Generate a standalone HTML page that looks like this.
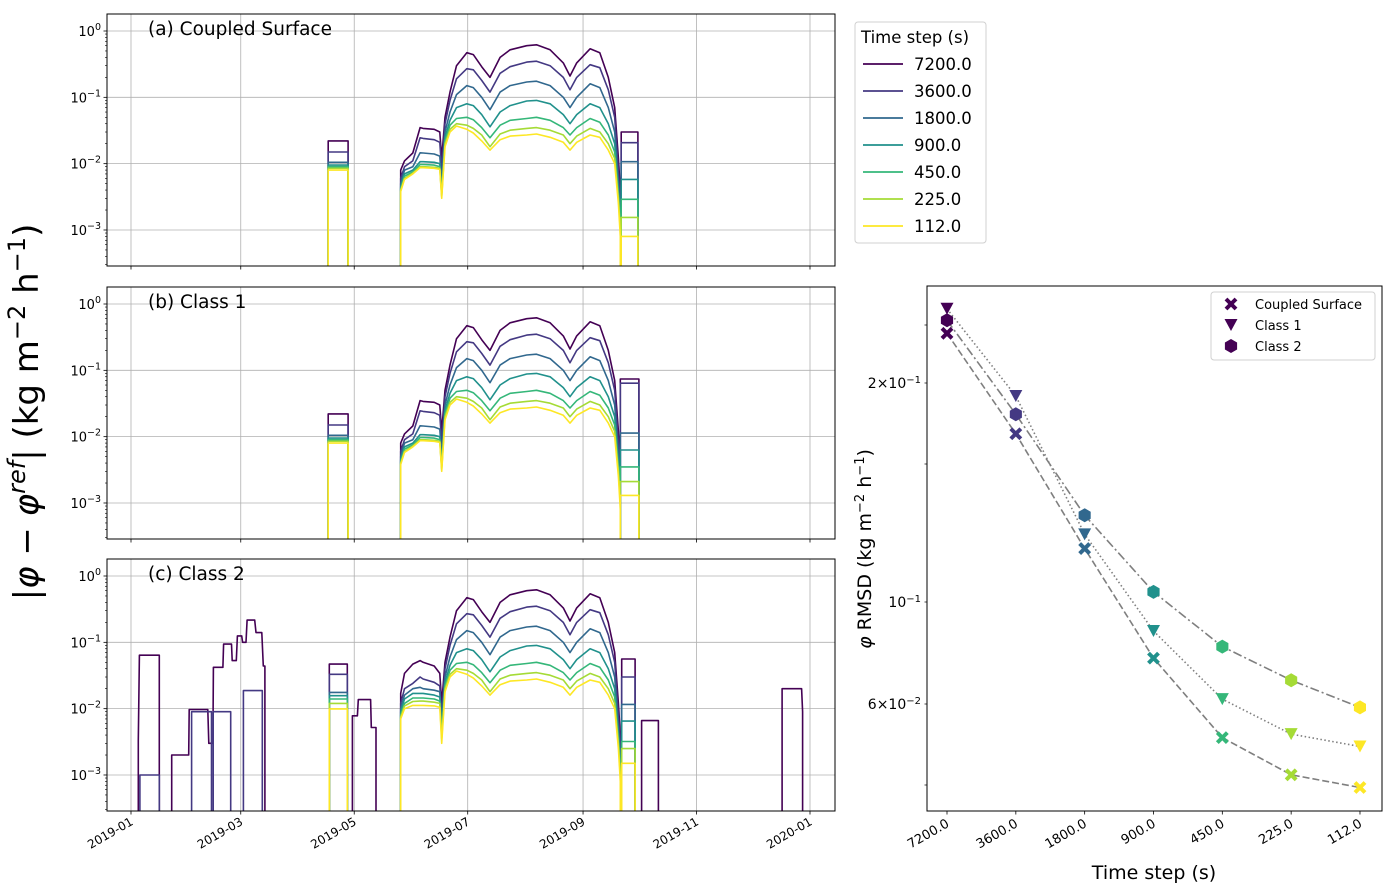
<!DOCTYPE html>
<html><head><meta charset="utf-8"><style>
html,body{margin:0;padding:0;background:#fff}
svg{display:block;font-family:"DejaVu Sans","Liberation Sans",sans-serif}
</style></head><body>
<svg id="fig" width="1396" height="895" viewBox="0 0 1396 895" xmlns="http://www.w3.org/2000/svg"></svg>
<script>
// ---------- data ----------
const seriesLabels = ['7200.0','3600.0','1800.0','900.0','450.0','225.0','112.0'];
const monthDays = [0,59,120,181,243,304,365];
const monthLabels = ['2019-01','2019-03','2019-05','2019-07','2019-09','2019-11','2020-01'];
const springDays = [145,147,151.5,155.4,157,163,166,167];
const summerDays = [168.8,171.5,175,180.5,184,188.5,193,198.4,203.8,212.7,218,225.3,232.4,236,239.6,246.8,252,256.6,260,262,263];
const springAB = [
 [0.008,0.011,0.0145,0.035,0.034,0.033,0.03,0.012],
 [0.006,0.009,0.011,0.0245,0.024,0.023,0.021,0.008],
 [0.005,0.008,0.009,0.0146,0.0145,0.014,0.013,0.005],
 [0.0045,0.007,0.008,0.0107,0.0107,0.0105,0.01,0.004],
 [0.0042,0.0065,0.0075,0.0097,0.0097,0.0095,0.009,0.0035],
 [0.004,0.006,0.0072,0.009,0.009,0.0088,0.0085,0.0032],
 [0.0038,0.0058,0.007,0.0087,0.0087,0.0085,0.0082,0.003]];
const springC = [
 [0.017,0.034,0.047,0.053,0.05,0.044,0.034,0.012],
 [0.012,0.02,0.024,0.03,0.028,0.025,0.022,0.008],
 [0.01,0.016,0.02,0.021,0.02,0.019,0.018,0.006],
 [0.009,0.014,0.017,0.017,0.017,0.016,0.015,0.005],
 [0.008,0.012,0.0145,0.0145,0.0145,0.014,0.013,0.004],
 [0.0075,0.011,0.0128,0.013,0.013,0.0125,0.012,0.0035],
 [0.007,0.01,0.0112,0.0112,0.0112,0.011,0.0105,0.003]];
const summer = [
 [0.05,0.12,0.3,0.47,0.44,0.29,0.2,0.40,0.52,0.6,0.62,0.52,0.33,0.21,0.33,0.54,0.47,0.2,0.07,0.012,0.004],
 [0.04,0.09,0.19,0.27,0.26,0.18,0.12,0.23,0.29,0.34,0.35,0.3,0.2,0.13,0.2,0.31,0.28,0.13,0.05,0.008,0.003],
 [0.03,0.06,0.11,0.15,0.14,0.1,0.065,0.12,0.15,0.17,0.175,0.15,0.1,0.07,0.1,0.16,0.14,0.07,0.03,0.005,0.002],
 [0.025,0.045,0.07,0.08,0.075,0.055,0.036,0.06,0.075,0.088,0.09,0.08,0.055,0.04,0.055,0.08,0.07,0.04,0.02,0.004,0.0015],
 [0.022,0.038,0.048,0.05,0.046,0.035,0.0245,0.038,0.045,0.048,0.05,0.045,0.035,0.027,0.035,0.048,0.042,0.027,0.015,0.0035,0.0012],
 [0.02,0.033,0.04,0.038,0.034,0.027,0.018,0.028,0.032,0.034,0.035,0.032,0.027,0.02,0.026,0.034,0.03,0.02,0.012,0.003,0.001],
 [0.018,0.03,0.037,0.033,0.029,0.022,0.016,0.023,0.026,0.027,0.028,0.025,0.021,0.016,0.021,0.027,0.025,0.016,0.01,0.0025,0.0008]];
const block1DaysAB = [106,116.7];
const block1DaysC = [106.6,116.3];
const block1AB = [0.022,0.015,0.0105,0.0095,0.009,0.0085,0.008];
const block1C = [0.047,0.033,0.0176,0.0157,0.014,0.012,0.0099];
const endDaysA = [263.5,272.5];
const endDaysB = [263,273];
const endDaysC = [263.8,271];
const endA = [0.03,0.0207,0.0107,0.0058,0.0029,0.00155,0.0008];
const endB = [0.074,0.064,0.0113,0.0063,0.0035,0.0021,0.0013];
const endC = [0.056,0.030,0.0116,0.0065,0.0032,0.0025,0.0015];
// extra Class 2 segments (null separates blocks)
const c7200ExtraDays = [3.9,4.5,14.1,15.2,null,21.9,31.0,31.3,41.3,41.8,44.0,44.3,49.4,49.8,54.0,54.4,56.6,57.2,59.5,60,61.8,62.4,66.5,67.2,70.3,71.1,72,null,119,121.7,122.2,128.8,129.2,131.7,null,274.5,283.5,null,350,360.5,361];
const c7200ExtraVals = [0.0033,0.064,0.064,0.064,null,0.002,0.002,0.0097,0.0097,0.003,0.003,0.042,0.042,0.094,0.094,0.053,0.053,0.125,0.125,0.10,0.10,0.216,0.216,0.14,0.14,0.044,0.044,null,0.0078,0.0078,0.0137,0.0137,0.0052,0.0052,null,0.0066,0.0066,null,0.02,0.02,0.009];
const c3600ExtraDays = [4.8,15.2,null,32.6,43.3,null,44.2,53.6,null,60.4,70.6];
const c3600ExtraVals = [0.001,0.001,null,0.009,0.009,null,0.009,0.009,null,0.0187,0.0187];
const rmsdSteps = ['7200.0','3600.0','1800.0','900.0','450.0','225.0','112.0'];
const rmsdCoupled = [0.283,0.167,0.117,0.0755,0.0507,0.0421,0.0395];
const rmsdClass1 = [0.336,0.191,0.122,0.0865,0.0615,0.0516,0.0485];
const rmsdClass2 = [0.31,0.179,0.129,0.103,0.080,0.0676,0.059];
const rmsdTickVals = [0.2,0.1,0.06];
const rmsdTickLabels = [['2×10','−1'],['10','−1'],['6×10','−2']];
const rmsdMinorVals = [0.3,0.15,0.04];

// ---------- helpers ----------
const colors = ['#440154','#443983','#31688e','#21918c','#35b779','#a5db36','#fde725'];
const NS='http://www.w3.org/2000/svg';
const svg=document.getElementById('fig');
function el(tag,attrs,parent){const e=document.createElementNS(NS,tag);for(const k in attrs)e.setAttribute(k,attrs[k]);(parent||svg).appendChild(e);return e;}
const PL=107,PR=835;
function xDay(d){return 131+d*(679/365);}
function yLog(v,top){return top+17-Math.log10(v)*66.33;}

function panel(top,name,title,springArr,block1Days,block1Vals,endDays,endVals,extras,showX){
  const bottom=top+252;
  const g=el('g',{});
  
  
  const cid='clip-'+name;
  const cp=el('clipPath',{id:cid},g);el('rect',{x:PL,y:top,width:PR-PL,height:252},cp);
  monthDays.forEach(d=>{const l=el('line',{x1:xDay(d),x2:xDay(d),y1:top,y2:bottom,stroke:'#b0b0b0','stroke-width':0.8},g);
    });
  [0,-1,-2,-3].forEach(p=>{const y=yLog(Math.pow(10,p),top);const l=el('line',{x1:PL,x2:PR,y1:y,y2:y,stroke:'#b0b0b0','stroke-width':0.8},g);
    });
  const sg=el('g',{'clip-path':'url(#'+cid+')'},g);
  for(let s=0;s<7;s++){
    const segs=[];
    segs.push(springDays.concat(summerDays).map((d,i)=>[d,i<8?springArr[s][i]:summer[s][i-8]]));
    segs.push([[block1Days[0],block1Vals[s]],[block1Days[1],block1Vals[s]]]);
    segs.push([[endDays[0],endVals[s]],[endDays[1],endVals[s]]]);
    if(extras&&extras[s]){
      const [ds,vs]=extras[s];let cur=[];
      ds.forEach((d,i)=>{if(d===null){if(cur.length)segs.push(cur);cur=[];}else cur.push([d,vs[i]]);});
      if(cur.length)segs.push(cur);
    }
    let dstr='';
    segs.forEach(seg=>{
      dstr+='M'+xDay(seg[0][0]).toFixed(1)+','+(bottom+5);
      seg.forEach(p=>{dstr+='L'+xDay(p[0]).toFixed(1)+','+yLog(p[1],top).toFixed(1);});
      dstr+='L'+xDay(seg[seg.length-1][0]).toFixed(1)+','+(bottom+5);
    });
    const p=el('path',{d:dstr,fill:'none',stroke:colors[s],'stroke-width':1.6,'stroke-linejoin':'round'},sg);
    
    
  }
  const fr=el('rect',{x:PL,y:top,width:PR-PL,height:252,fill:'none',stroke:'#000','stroke-width':1},g);
  
  for(let p=-4;p<=0;p++){
    for(let m=1;m<10;m++){
      const v=m*Math.pow(10,p);const y=yLog(v,top);
      if(y<top-0.5||y>bottom+0.5)continue;
      el('line',{x1:PL,x2:PL-(m===1?3.5:2),y1:y,y2:y,stroke:'#000','stroke-width':m===1?0.8:0.6},g);
      if(m===1){
        const t=el('text',{x:PL-6,y:y+5,'font-size':13,'text-anchor':'end',fill:'#000'},g);
        
        t.appendChild(document.createTextNode('10'));
        const sp=el('tspan',{dy:-6,'font-size':9.5},t);sp.textContent=p===0?'0':'−'+(-p);
      }
    }
  }
  monthDays.forEach((d,i)=>{
    el('line',{x1:xDay(d),x2:xDay(d),y1:bottom,y2:bottom+3.5,stroke:'#000','stroke-width':0.8},g);
    if(showX){
      const x=xDay(d)+3,y=bottom+13;
      const t=el('text',{x:x,y:y,'font-size':12,'text-anchor':'end',transform:'rotate(-30 '+x+' '+y+')'},g);
      
      t.textContent=monthLabels[i];
    }
  });
  const tt=el('text',{x:148,y:top+21,'font-size':18.5,fill:'#000'},g);
  
  tt.textContent=title;
}
panel(14,'panel-a-coupled-surface','(a) Coupled Surface',springAB,block1DaysAB,block1AB,endDaysA,endA,null,false);
panel(287,'panel-b-class-1','(b) Class 1',springAB,block1DaysAB,block1AB,endDaysB,endB,null,false);
panel(559,'panel-c-class-2','(c) Class 2',springC,block1DaysC,block1C,endDaysC,endC,{0:[c7200ExtraDays,c7200ExtraVals],1:[c3600ExtraDays,c3600ExtraVals]},true);

// big y label
(function(){
  const cx=38,cy=412;
  const t=el('text',{x:cx,y:cy,'font-size':34,'text-anchor':'middle',transform:'rotate(-90 '+cx+' '+cy+')'});
  
  const parts=[['|',0,34,''],['φ',0,34,'i'],[' − ',0,34,''],['φ',0,34,'i'],['ref',-13,24,'i'],['| (kg m',13,34,''],['−2',-13,24,''],[' h',13,34,''],['−1',-13,24,''],[')',13,34,'']];
  parts.forEach(p=>{const s=el('tspan',{dy:p[1],'font-size':p[2]},t);if(p[3])s.setAttribute('font-style','italic');s.textContent=p[0];});
})();

// legend left
(function(){
  const g=el('g',{});
  el('rect',{x:855,y:22,width:131,height:221,rx:3,fill:'#fff',stroke:'#d0d0d0','stroke-width':1},g);
  const t=el('text',{x:861,y:43,'font-size':16.5},g);t.textContent='Time step (s)';
  
  seriesLabels.forEach((lab,i)=>{
    const y=64+i*27;
    const e=el('g',{},g);
    el('line',{x1:863,x2:903,y1:y,y2:y,stroke:colors[i],'stroke-width':1.8},e);
    const tx=el('text',{x:914,y:y+6,'font-size':16.5},e);tx.textContent=lab;
  });
})();

// right chart
(function(){
  const L=927,R=1382,T=286,B=811;
  const g=el('g',{});
  const kv=[0.3,0.2,0.15,0.1,0.06,0.04],kp=[325,383,464,602,704,785];
  function yR(v){const lv=Math.log10(v);
    for(let i=0;i<kv.length-1;i++){const a=Math.log10(kv[i]),b=Math.log10(kv[i+1]);
      if(lv>=b||i===kv.length-2){const f=(lv-a)/(b-a);return kp[i]+f*(kp[i+1]-kp[i]);}}
    return kp[0];}
  function xR(i){return 947+i*68.83;}
  el('rect',{x:L,y:T,width:R-L,height:B-T,fill:'none',stroke:'#000','stroke-width':1},g);
  rmsdTickVals.forEach((v,i)=>{const y=yR(v);
    el('line',{x1:L,x2:L-2.5,y1:y,y2:y,stroke:'#000','stroke-width':0.7},g);
    const t=el('text',{x:L-6,y:y+5,'font-size':14,'text-anchor':'end'},g);
    
    t.appendChild(document.createTextNode(rmsdTickLabels[i][0]));
    const s=el('tspan',{dy:-5,'font-size':10},t);s.textContent=rmsdTickLabels[i][1];
  });
  rmsdMinorVals.forEach(v=>{const y=yR(v);el('line',{x1:L,x2:L-2.5,y1:y,y2:y,stroke:'#000','stroke-width':0.7},g);});
  rmsdSteps.forEach((lab,i)=>{const x=xR(i);
    el('line',{x1:x,x2:x,y1:B,y2:B+3.5,stroke:'#000','stroke-width':0.8},g);
    const tx=x+3,ty=B+15;
    const t=el('text',{x:tx,y:ty,'font-size':13,'text-anchor':'end',transform:'rotate(-30 '+tx+' '+ty+')'},g);
    t.textContent=lab;});
  const xt=el('text',{x:1154,y:879,'font-size':19,'text-anchor':'middle'},g);xt.textContent='Time step (s)';
  
  const yt=el('text',{x:871,y:549,'font-size':19,'text-anchor':'middle',transform:'rotate(-90 871 549)'},g);
  
  [['φ',0,19,1],[' RMSD (kg m',0,19,0],['−2',-7,13,0],[' h',7,19,0],['−1',-7,13,0],[')',7,19,0]].forEach(p=>{const s=el('tspan',{dy:p[1],'font-size':p[2]},yt);if(p[3]){s.setAttribute('font-style','italic');}s.textContent=p[0];});
  function marker(type,x,y,c,parent){
    if(type==='x'){const m=el('g',{},parent);
      el('line',{x1:x-5,y1:y-5,x2:x+5,y2:y+5,stroke:c,'stroke-width':4},m);
      el('line',{x1:x-5,y1:y+5,x2:x+5,y2:y-5,stroke:c,'stroke-width':4},m);return m;}
    if(type==='v')return el('polygon',{points:`${x-6.5},${y-6} ${x+6.5},${y-6} ${x},${y+6}`,fill:c},parent);
    const pts=[];for(let k=0;k<6;k++){const a=(90+60*k)*Math.PI/180;pts.push((x+7*Math.cos(a)).toFixed(1)+','+(y-7*Math.sin(a)).toFixed(1));}
    return el('polygon',{points:pts.join(' '),fill:c},parent);
  }
  const sets=[['coupled-surface',rmsdCoupled,'x','7,3'],['class-1',rmsdClass1,'v','1.5,2.5'],['class-2',rmsdClass2,'h','9,3,2,3']];
  sets.forEach(s=>{
    const sg=el('g',{},g);
    const pts=s[1].map((v,i)=>xR(i).toFixed(1)+','+yR(v).toFixed(1)).join(' ');
    el('polyline',{points:pts,fill:'none',stroke:'#7f7f7f','stroke-width':1.6,'stroke-dasharray':s[3]},sg);
  });
  sets.forEach(s=>{
    s[1].forEach((v,i)=>{const m=marker(s[2],xR(i),yR(v),colors[i],g);
      });
  });
  const lg=el('g',{},g);
  el('rect',{x:1211,y:292,width:164,height:68,rx:3,fill:'#fff',stroke:'#d0d0d0'},lg);
  [['Coupled Surface','x'],['Class 1','v'],['Class 2','h']].forEach((e,i)=>{
    const y=304+i*21;
    const ent=el('g',{},lg);
    marker(e[1],1231,y,'#440154',ent);
    const t=el('text',{x:1255,y:y+5,'font-size':13},ent);t.textContent=e[0];
  });
})();
</script>
</body></html>
